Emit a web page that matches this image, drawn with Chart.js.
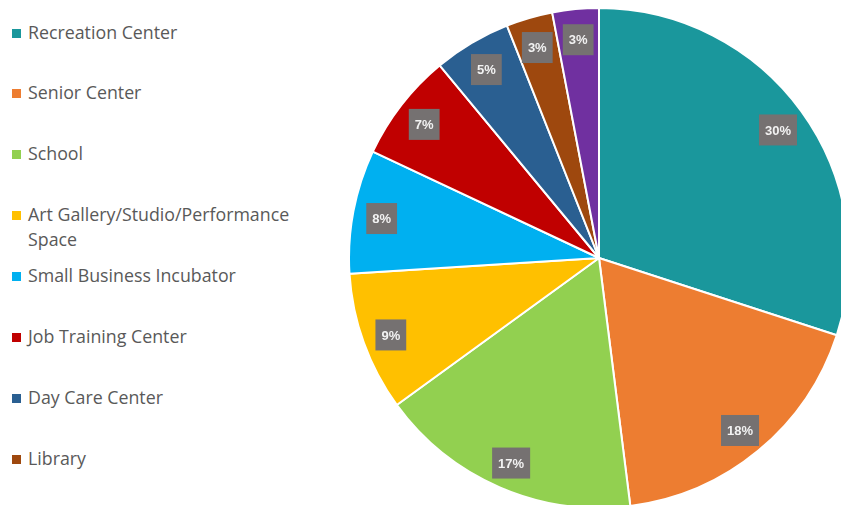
<!DOCTYPE html>
<html>
<head>
<meta charset="utf-8">
<script src="https://cdn.jsdelivr.net/npm/chart.js@4/dist/chart.umd.min.js"></script>
<style>
  html, body { margin: 0; padding: 0; background: #fff; }
  body { width: 841px; height: 505px; overflow: hidden; position: relative; }
  #wrap { position: absolute; left: 348px; top: 7px; width: 502px; height: 502px; }
  #legend { position: absolute; left: 0; top: 0; width: 330px; height: 505px; font-family: "Open Sans", sans-serif; font-size: 17.8px; color: #595959; }
  .item { position: absolute; left: 12px; width: 310px; }
  .sw { position: absolute; left: 0; top: 6px; width: 9px; height: 9px; }
  .tx { position: absolute; left: 16px; top: -3px; width: 295px; line-height: 25px; white-space: normal; }
</style>
</head>
<body>
<div id="legend"></div>
<div id="wrap"><canvas id="c" width="502" height="502"></canvas></div>
<script>
const categories = ["Recreation Center", "Senior Center", "School", "Art Gallery/Studio/Performance Space", "Small Business Incubator", "Job Training Center", "Day Care Center", "Library", "Other"];
const values = [30, 18, 17, 9, 8, 7, 5, 3, 3];
const colors = ["#1A979C", "#ED7D31", "#92D050", "#FFC000", "#00B0F0", "#C00000", "#2A5F91", "#9E480E", "#7030A0"];

// HTML legend
const legend = document.getElementById('legend');
categories.forEach((name, i) => {
  const it = document.createElement('div');
  it.className = 'item';
  it.style.top = (22.5 + i * 60.9) + 'px';
  const sw = document.createElement('div');
  sw.className = 'sw';
  sw.style.background = colors[i];
  const tx = document.createElement('div');
  tx.className = 'tx';
  tx.textContent = name;
  it.appendChild(sw);
  it.appendChild(tx);
  legend.appendChild(it);
});

const labelPlugin = {
  id: 'pctLabels',
  afterDatasetsDraw(chart) {
    const ctx = chart.ctx;
    const meta = chart.getDatasetMeta(0);
    ctx.save();
    ctx.font = 'bold 13px "Liberation Sans", Arial, sans-serif';
    ctx.textAlign = 'center';
    ctx.textBaseline = 'middle';
    meta.data.forEach((arc, i) => {
      const p = arc.getProps(['x', 'y', 'startAngle', 'endAngle', 'outerRadius'], true);
      const mid = (p.startAngle + p.endAngle) / 2;
      const r = p.outerRadius * 0.885;
      const cx = p.x + Math.cos(mid) * r;
      const cy = p.y + Math.sin(mid) * r + 2;
      const text = values[i] + '%';
      const w = ctx.measureText(text).width + 12;
      const h = 31;
      ctx.fillStyle = '#757171';
      ctx.fillRect(cx - w / 2, cy - h / 2, w, h);
      ctx.fillStyle = '#F2F2F2';
      ctx.fillText(text, cx, cy + 1);
    });
    ctx.restore();
  }
};

new Chart(document.getElementById('c'), {
  type: 'pie',
  data: {
    labels: categories,
    datasets: [{
      data: values,
      backgroundColor: colors,
      borderColor: '#ffffff',
      borderWidth: 2
    }]
  },
  options: {
    responsive: false,
    animation: false,
    layout: { padding: 0 },
    plugins: {
      legend: { display: false },
      tooltip: { enabled: false }
    }
  },
  plugins: [labelPlugin]
});
</script>
</body>
</html>
